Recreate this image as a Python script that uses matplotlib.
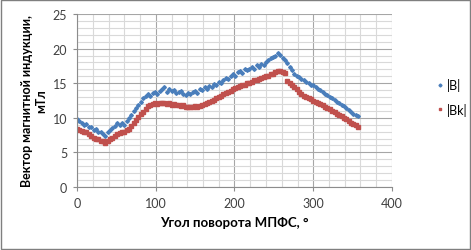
import matplotlib
matplotlib.use("Agg")
import matplotlib.pyplot as plt
from matplotlib.ticker import MultipleLocator

angle = list(range(0, 360, 3))
B = [9.8, 9.6, 9.3, 8.9, 9.1, 8.6, 8.7, 8.3, 8.4, 8.0, 7.9, 7.6, 7.4, 7.9, 8.3, 8.5, 8.8, 9.2, 8.9, 9.3,
     9.0, 9.6, 9.9, 10.4, 11.0, 11.4, 11.9, 12.3, 12.8, 13.1, 13.4, 13.2, 13.6, 13.8, 13.5, 13.9, 14.2, 14.4, 13.8, 14.1,
     13.9, 14.0, 13.6, 13.8, 13.9, 13.5, 13.3, 13.6, 13.4, 13.7, 13.9, 13.6, 14.1, 14.0, 14.4, 14.2, 14.6, 14.5, 14.9, 14.8,
     15.2, 15.0, 15.5, 15.8, 15.6, 16.1, 16.3, 16.0, 16.6, 16.8, 16.5, 17.1, 16.9, 17.0, 17.3, 17.1, 17.6, 17.4, 17.8, 17.7,
     18.1, 18.3, 18.6, 18.8, 19.0, 19.3, 19.1, 18.7, 18.3, 17.9, 17.4, 16.9, 16.4, 16.1, 15.9, 15.6, 15.4, 15.2, 15.0, 14.8,
     14.7, 14.4, 14.2, 14.0, 13.8, 13.5, 13.3, 13.0, 12.8, 12.6, 12.3, 12.1, 11.9, 11.7, 11.4, 11.1, 10.9, 10.6, 10.4, 10.2]
Bk = [8.4, 8.3, 8.1, 7.9, 8.0, 7.6, 7.3, 7.1, 7.0, 6.9, 6.7, 6.6, 6.4, 6.6, 6.9, 7.1, 7.4, 7.6, 7.8, 7.9,
      8.0, 8.2, 8.4, 8.8, 9.3, 9.7, 10.1, 10.6, 10.9, 11.3, 11.7, 11.9, 12.0, 12.1, 12.0, 12.2, 12.2, 12.1, 12.0, 12.1,
      11.9, 12.0, 11.8, 11.9, 11.7, 11.8, 11.6, 11.5, 11.6, 11.5, 11.7, 11.6, 11.7, 11.8, 12.0, 12.1, 12.3, 12.4, 12.6, 12.8,
      13.0, 13.2, 13.4, 13.6, 13.8, 13.9, 14.1, 14.3, 14.4, 14.6, 14.7, 14.8, 15.0, 15.1, 15.2, 15.4, 15.5, 15.6, 15.8, 15.9,
      16.0, 16.1, 16.3, 16.4, 16.6, 16.8, 16.7, 16.6, 16.5, 15.3, 15.0, 14.8, 14.5, 14.2, 13.8, 13.5, 13.2, 13.0, 12.9, 12.7,
      12.5, 12.3, 12.2, 12.0, 11.8, 11.6, 11.4, 11.2, 11.0, 10.8, 10.6, 10.4, 10.2, 10.0, 9.8, 9.5, 9.3, 9.1, 8.9, 8.7]

plt.rcParams['font.family'] = ['Lato', 'DejaVu Sans']

fig = plt.figure(figsize=(4.71, 2.51), dpi=100)
fig.patch.set_facecolor('white')
border = plt.Rectangle((0.002, 0.004), 0.996, 0.992, transform=fig.transFigure,
                       fill=False, edgecolor='#7f7f7f', linewidth=1.0)
fig.add_artist(border)

ax = fig.add_axes([77/471, 1-188/251, (392-77)/471, (188-15)/251])
ax.set_xlim(0, 400)
ax.set_ylim(0, 25)
ax.xaxis.set_major_locator(MultipleLocator(100))
ax.xaxis.set_minor_locator(MultipleLocator(20))
ax.yaxis.set_major_locator(MultipleLocator(5))
ax.yaxis.set_minor_locator(MultipleLocator(1))
ax.grid(which='minor', color='#d9d9d9', linewidth=0.8)
ax.grid(which='major', color='#a6a6a6', linewidth=0.8)
ax.set_axisbelow(True)
for s in ['top', 'right']:
    ax.spines[s].set_visible(False)
for s in ['left', 'bottom']:
    ax.spines[s].set_color('#8c8c8c')
    ax.spines[s].set_linewidth(0.8)
ax.tick_params(which='major', length=3, color='#8c8c8c', labelsize=9, labelcolor='#404040', pad=4)
ax.tick_params(which='minor', length=0)

ax.plot(angle, B, linestyle='none', marker='D', markersize=1.9, color='#4a7ebb', label='|B|')
ax.plot(angle, Bk, linestyle='none', marker='s', markersize=2.6, color='#c0504d', label='|Bk|')

ax.set_xlabel('Угол поворота МПФС, °', fontsize=9.5, fontweight='bold', labelpad=5)
ax.set_ylabel('Вектор магнитной индукции,\nмТл', fontsize=9, fontweight='bold', labelpad=4)

leg = ax.legend(loc='center left', bbox_to_anchor=(1.10, 0.52), frameon=False, fontsize=9,
                handletextpad=0.2, labelspacing=0.9, handlelength=0.8, markerscale=0.8)

fig.savefig('out.png', dpi=100, facecolor='white')
